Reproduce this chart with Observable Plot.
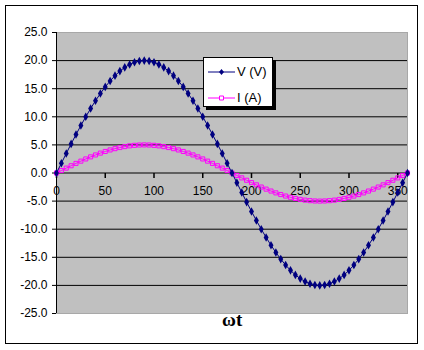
<!DOCTYPE html>
<html>
<head>
<meta charset="utf-8">
<script src="https://cdn.jsdelivr.net/npm/d3@7"></script>
<script src="https://cdn.jsdelivr.net/npm/@observablehq/plot@0.6"></script>
<style>
  html, body { margin: 0; padding: 0; background: #fff; }
  #wrap { position: relative; width: 424px; height: 350px; font-family: Arial, "Liberation Sans", sans-serif; }
  #border { position: absolute; left: 5px; top: 5px; width: 411px; height: 337px; border: 1px solid #000; pointer-events: none; }
  #legend { position: absolute; left: 203px; top: 57px; width: 68px; height: 48px; background: #fff; border: 1px solid #000; box-shadow: 3px 3px 0 #000; }
  #legend .row { position: absolute; left: 0; height: 20px; }
  #legend .lbl { position: absolute; left: 33px; font-size: 13px; line-height: 16px; color: #000; white-space: nowrap; }
  #xlabel { position: absolute; left: 222px; top: 309px; font-family: "Liberation Serif", "Times New Roman", serif; font-weight: bold; font-size: 19px; color: #000; }
  svg { position: absolute; left: 0; top: 0; }
</style>
</head>
<body>
<div id="wrap"></div>
<script>
const angles = [0,5,10,15,20,25,30,35,40,45,50,55,60,65,70,75,80,85,90,95,100,105,110,115,120,125,130,135,140,145,150,155,160,165,170,175,180,185,190,195,200,205,210,215,220,225,230,235,240,245,250,255,260,265,270,275,280,285,290,295,300,305,310,315,320,325,330,335,340,345,350,355,360];
const voltage = [0,1.74,3.47,5.18,6.84,8.45,10.00,11.47,12.86,14.14,15.32,16.38,17.32,18.13,18.79,19.32,19.70,19.92,20.00,19.92,19.70,19.32,18.79,18.13,17.32,16.38,15.32,14.14,12.86,11.47,10.00,8.45,6.84,5.18,3.47,1.74,0,-1.74,-3.47,-5.18,-6.84,-8.45,-10.00,-11.47,-12.86,-14.14,-15.32,-16.38,-17.32,-18.13,-18.79,-19.32,-19.70,-19.92,-20.00,-19.92,-19.70,-19.32,-18.79,-18.13,-17.32,-16.38,-15.32,-14.14,-12.86,-11.47,-10.00,-8.45,-6.84,-5.18,-3.47,-1.74,0];
const current = [0,0.44,0.87,1.29,1.71,2.11,2.50,2.87,3.21,3.54,3.83,4.10,4.33,4.53,4.70,4.83,4.92,4.98,5.00,4.98,4.92,4.83,4.70,4.53,4.33,4.10,3.83,3.54,3.21,2.87,2.50,2.11,1.71,1.29,0.87,0.44,0,-0.44,-0.87,-1.29,-1.71,-2.11,-2.50,-2.87,-3.21,-3.54,-3.83,-4.10,-4.33,-4.53,-4.70,-4.83,-4.92,-4.98,-5.00,-4.98,-4.92,-4.83,-4.70,-4.53,-4.33,-4.10,-3.83,-3.54,-3.21,-2.87,-2.50,-2.11,-1.71,-1.29,-0.87,-0.44,0];
const seriesNames = ["V (V)", "I (A)"];
const seriesColors = ["#000080", "#FF00FF"];
const xTicks = [0,50,100,150,200,250,300,350];
const yTicks = [-25,-20,-15,-10,-5,0,5,10,15,20,25];
const gridLines = [-20,-15,-10,-5,5,10,15,20];
const xTitle = "ωt";

const vData = angles.map((a, i) => ({a, v: voltage[i]}));
const iData = angles.map((a, i) => ({a, v: current[i]}));

const tickDown = { draw(ctx, size) { ctx.moveTo(0, 0); ctx.lineTo(0, 5); } };

const chart = Plot.plot({
  width: 424,
  height: 350,
  marginLeft: 56,
  marginTop: 32,
  marginRight: 17,
  marginBottom: 37,
  style: { fontFamily: "Arial, 'Liberation Sans', sans-serif", fontSize: "12px", color: "#000", background: "transparent" },
  x: { domain: [0, 360], axis: null },
  y: { domain: [-25, 25], axis: null },
  marks: [
    Plot.frame({ fill: "#C0C0C0", stroke: "#A8A8A8" }),
    Plot.ruleY(gridLines, { stroke: "#000", strokeWidth: 1 }),
    Plot.ruleY([0], { stroke: "#000", strokeWidth: 1 }),
    Plot.ruleX([0], { stroke: "#000", strokeWidth: 1 }),
    Plot.axisY({ ticks: yTicks, tickFormat: d => d.toFixed(1), tickSize: 4, tickPadding: 5, fontSize: 12, stroke: "#000", fill: "#000", label: null }),
    Plot.dot(xTicks, { x: d => d, y: () => 0, symbol: tickDown, stroke: "#000", fill: "none", r: 3 }),
    Plot.text(xTicks, { x: d => d, y: () => 0, text: d => String(d), dy: 18, fontSize: 12, fill: "#000" }),
    Plot.line(iData, { x: "a", y: "v", stroke: seriesColors[1], strokeWidth: 1 }),
    Plot.dot(iData, { x: "a", y: "v", symbol: "square", r: 2.3, stroke: seriesColors[1], fill: "none", strokeWidth: 1 }),
    Plot.line(vData, { x: "a", y: "v", stroke: seriesColors[0], strokeWidth: 1 }),
    Plot.dot(vData, { x: "a", y: "v", symbol: "diamond", r: 2.6, fill: seriesColors[0], stroke: "none" })
  ]
});

const wrap = document.getElementById("wrap");
wrap.appendChild(chart);

const border = document.createElement("div");
border.id = "border";
wrap.appendChild(border);

const legend = document.createElement("div");
legend.id = "legend";
const rowsTop = [5, 31];
seriesNames.forEach((name, i) => {
  const row = document.createElement("div");
  row.className = "row";
  row.style.top = rowsTop[i] + "px";
  const svgNS = "http://www.w3.org/2000/svg";
  const s = document.createElementNS(svgNS, "svg");
  s.setAttribute("width", "32"); s.setAttribute("height", "18");
  s.style.position = "absolute"; s.style.left = "3px"; s.style.top = "0px";
  const ln = document.createElementNS(svgNS, "line");
  ln.setAttribute("x1", "1"); ln.setAttribute("x2", "28"); ln.setAttribute("y1", "9"); ln.setAttribute("y2", "9");
  ln.setAttribute("stroke", seriesColors[i]);
  s.appendChild(ln);
  const mk = document.createElementNS(svgNS, "path");
  if (i === 0) {
    mk.setAttribute("d", "M14.5,6 L17,9 L14.5,12 L12,9 Z");
    mk.setAttribute("fill", seriesColors[0]);
  } else {
    mk.setAttribute("d", "M12.5,7 h4 v4 h-4 Z");
    mk.setAttribute("fill", "#fff");
    mk.setAttribute("stroke", seriesColors[1]);
  }
  s.appendChild(mk);
  row.appendChild(s);
  const lbl = document.createElement("div");
  lbl.className = "lbl";
  lbl.style.top = "1px";
  lbl.textContent = name;
  row.appendChild(lbl);
  legend.appendChild(row);
});
wrap.appendChild(legend);

const xl = document.createElement("div");
xl.id = "xlabel";
xl.textContent = xTitle;
wrap.appendChild(xl);
</script>
</body>
</html>
